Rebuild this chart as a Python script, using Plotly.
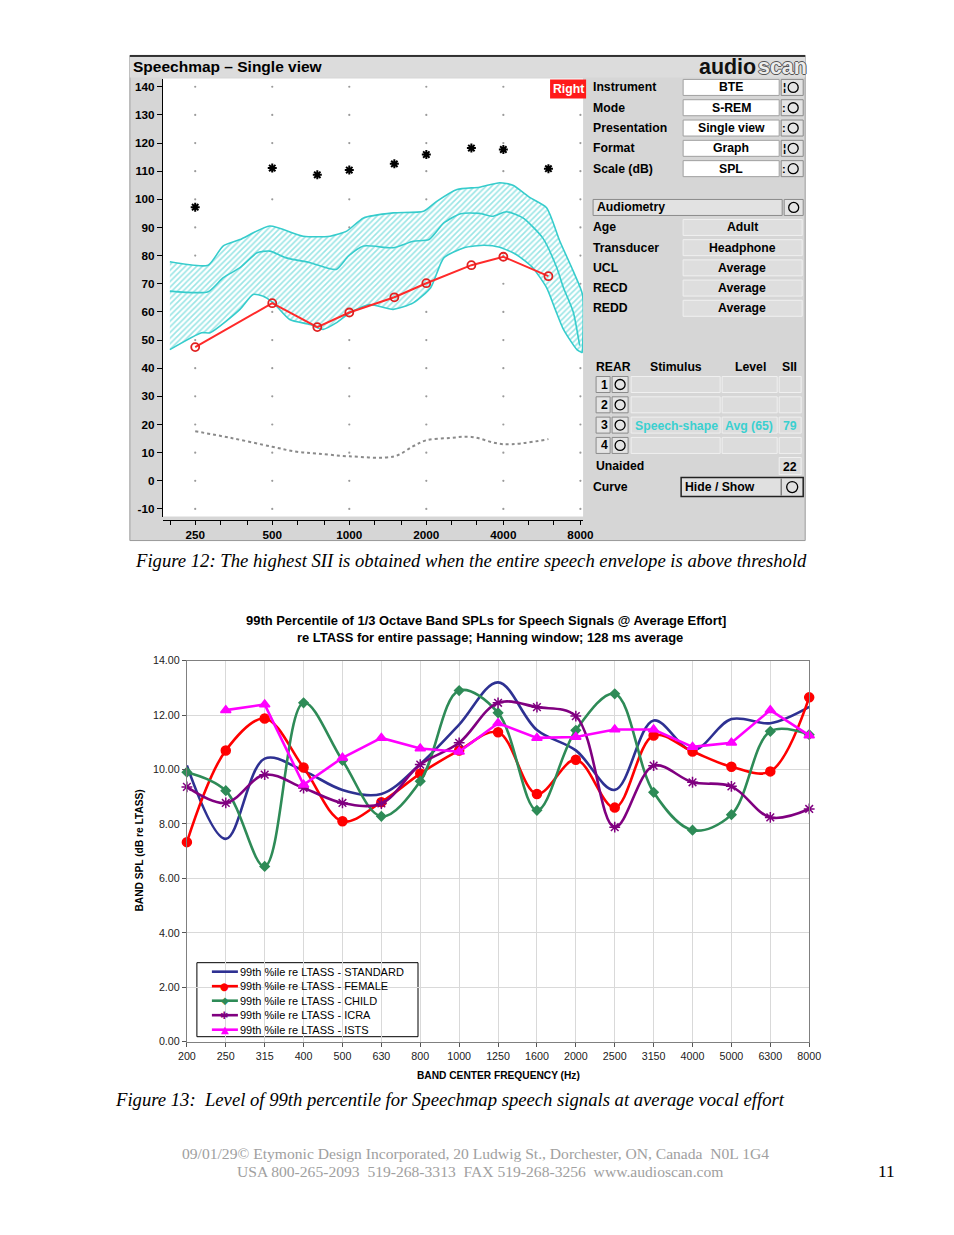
import math
import plotly.graph_objects as go

# ---------------- Figure 12 : Speechmap screen data ----------------
sm_freq = [250, 500, 750, 1000, 1500, 2000, 3000, 4000, 6000]
ucl_db = [97.2, 111.1, 108.7, 110.4, 112.6, 115.9, 118.2, 117.7, 110.9]
threshold_db = [47.5, 63.1, 54.6, 59.8, 65.2, 70.2, 76.6, 79.6, 72.7]

unaided_freq = [250, 342, 500, 624, 750, 1000, 1500, 1778, 2000, 2460, 3000, 4000, 6000]
unaided_db = [17.6, 15.3, 12.1, 10.3, 9.7, 8.7, 8.7, 12.3, 14.4, 15.2, 15.6, 13.0, 14.8]

band_upper_freq = [199, 281, 321, 374, 489, 661, 841, 977, 1137, 1484, 1952, 2196, 2637,
                   3226, 3873, 4360, 5085, 5900, 6650, 7500, 8150, 8150]
band_upper_db = [77.8, 76.6, 83.4, 85.7, 90.5, 86.9, 86.9, 88.7, 93.4, 95.2, 95.8, 99.3, 103.5,
                 104.3, 105.9, 105.0, 100.6, 97.0, 85.1, 74.5, 66.2, 45.5]
band_lower_freq = [199, 265, 286, 374, 421, 461, 505, 585, 703, 790, 889, 1006, 1203, 1484,
                   1778, 2080, 2341, 2810, 3367, 3873, 4490, 5210, 5900, 6380, 6870, 7770, 8150]
band_lower_db = [46.6, 52.6, 52.6, 60.9, 66.2, 65.6, 63.2, 57.3, 55.5, 53.8, 56.1, 59.7, 62.6, 60.9,
                 63.2, 68.6, 79.2, 82.8, 83.7, 83.0, 80.4, 75.7, 68.6, 60.9, 53.8, 46.5, 45.5]
band_mid_freq = [199, 281, 321, 374, 436, 489, 568, 703, 889, 991, 1137, 1484, 1778, 2050,
                 2341, 2724, 3226, 3650, 4110, 4770, 5700, 6470, 6870, 7500, 7950]
band_mid_db = [67.4, 67.2, 72.1, 75.7, 81.0, 81.6, 79.2, 77.5, 75.1, 79.8, 83.4, 82.8, 85.1, 85.7,
               91.6, 94.9, 95.0, 94.0, 95.6, 93.4, 86.3, 75.7, 68.6, 60.0, 48.0]

sm_xtick_vals = [250, 500, 1000, 2000, 4000, 8000]
sm_xtick_text = ["250", "500", "1000", "2000", "4000", "8000"]
sm_xminor_vals = [200, 315, 400, 630, 800, 1250, 1600, 2500, 3150, 5000, 6300]
sm_ytick_vals = list(range(-10, 141, 10))
sm_ytick_text = ["-10" if v < 0 else str(v) for v in sm_ytick_vals]

# ---------------- Figure 13 : 99th percentile data ----------------
bands = ["200", "250", "315", "400", "500", "630", "800", "1000", "1250", "1600",
         "2000", "2500", "3150", "4000", "5000", "6300", "8000"]
standard = [10.15, 7.45, 10.4, 9.95, 9.25, 9.1, 10.2, 11.65, 13.2, 11.45, 10.7, 9.25, 11.8, 10.7, 11.85, 11.7, 12.3]
female = [7.33, 10.7, 11.87, 10.07, 8.1, 8.8, 9.85, 10.7, 11.37, 9.1, 10.36, 8.6, 11.25, 10.66, 10.1, 9.93, 12.65]
child = [9.9, 9.22, 6.44, 12.45, 10.33, 8.28, 9.57, 12.9, 12.08, 8.5, 11.44, 12.78, 9.16, 7.77, 8.34, 11.4, 11.28]
icra = [9.36, 8.77, 9.81, 9.32, 8.77, 8.75, 10.18, 10.98, 12.45, 12.29, 11.96, 7.88, 10.14, 9.53, 9.38, 8.24, 8.55]
ists = [None, 12.18, 12.39, 9.44, 10.43, 11.16, 10.77, 10.65, 11.7, 11.16, 11.19, 11.47, 11.47, 10.83, 10.98, 12.18, 11.25]
series_names = ["99th %ile re LTASS - STANDARD", "99th %ile re LTASS - FEMALE",
                "99th %ile re LTASS - CHILD", "99th %ile re LTASS - ICRA",
                "99th %ile re LTASS - ISTS"]

# ---------------- page geometry helpers ----------------
FW, FH = 954, 1235
AX, BX = 0.9775, 9.2     # observed page -> picture mapping
AY, BY = 0.990, 6.6
FS = 1.02                # font compensation


def X(p):
    return ((p - BX) / AX) / FW


def Y(p):
    return 1 - ((p - BY) / AY) / FH


shapes = []
annotations = []


def rect(x0, y0, x1, y1, fill, line="rgba(0,0,0,0)", lw=0):
    shapes.append(dict(type="rect", xref="paper", yref="paper", x0=X(x0), x1=X(x1),
                       y0=Y(y1), y1=Y(y0), fillcolor=fill, line=dict(color=line, width=lw),
                       layer="below"))


def circ(cx, cy, r=5, color="black", lw=1.3):
    shapes.append(dict(type="circle", xref="paper", yref="paper", x0=X(cx - r), x1=X(cx + r),
                       y0=Y(cy + r), y1=Y(cy - r), line=dict(color=color, width=lw), layer="above"))


def hline(x0, x1, y, color="black", lw=1):
    shapes.append(dict(type="line", xref="paper", yref="paper", x0=X(x0), x1=X(x1),
                       y0=Y(y), y1=Y(y), line=dict(color=color, width=lw), layer="above"))


def txt(x, y, s, size=12, color="black", bold=True, anchor="left",
        family="Liberation Sans", italic=False, angle=0, shadow=None):
    font = dict(family=family, size=size * FS, color=color,
                weight="bold" if bold else "normal",
                style="italic" if italic else "normal")
    if shadow:
        font["shadow"] = shadow
    annotations.append(dict(xref="paper", yref="paper", x=X(x), y=Y(y), text=s, showarrow=False,
                            xanchor=anchor, yanchor="middle", textangle=angle, font=font))


fig = go.Figure()

# ================= Figure 12 (Speechmap screenshot) =================
PANEL = "#d6d6d6"
rect(130, 56, 805, 541, PANEL, "#9a9a9a", 1)
rect(130, 56, 805, 78, "#dcdcdc")
hline(130, 805, 56.5, "black", 1.5)
rect(163, 79, 583, 517, "white")
txt(131, 67, "Speechmap \u2013 Single view", size=15.2)

# logo
txt(697, 68, "audio", size=21, color="#111111")
txt(756, 68, "scan", size=21, color="#ececec",
    shadow="-1px 0 #555, 1px 0 #555, 0 -1px #555, 0 1px #555")

# "Right" tag
rect(550, 80, 586, 99, "#ff1a1a")
txt(568, 90, "Right", size=12, color="white", anchor="center")

# settings rows
top_labels = ["Instrument", "Mode", "Presentation", "Format", "Scale (dB)"]
top_values = ["BTE", "S-REM", "Single view", "Graph", "SPL"]
top_marks = ["\u00a6", ":", ":", "\u00a6", ":"]
for i, (lab, val, mk) in enumerate(zip(top_labels, top_values, top_marks)):
    cy = 88 + i * 20.3
    txt(591, cy, lab, size=12)
    rect(683, cy - 8, 779, cy + 8, "white", "#a0a0a0", 1)
    txt(731, cy, val, size=12, anchor="center")
    rect(781, cy - 8, 803, cy + 8, "#e4e4e4", "#8a8a8a", 1)
    txt(784, cy, mk, size=11, anchor="center")
    circ(793, cy, 5)

rect(593, 200, 782, 216, "#e2e2e2", "#8a8a8a", 1)
txt(595, 208, "Audiometry", size=12)
rect(784, 200, 803, 216, "#e4e4e4", "#8a8a8a", 1)
circ(793.5, 208, 5)

aud_labels = ["Age", "Transducer", "UCL", "RECD", "REDD"]
aud_values = ["Adult", "Headphone", "Average", "Average", "Average"]
for i, (lab, val) in enumerate(zip(aud_labels, aud_values)):
    cy = 228 + i * 20.2
    txt(591, cy, lab, size=12)
    rect(683, cy - 8, 802, cy + 8, "#dedede", "#f0f0f0", 1)
    txt(742, cy, val, size=12, anchor="center")

txt(594, 367, "REAR", size=12)
txt(676, 367, "Stimulus", size=12, anchor="center")
txt(750, 367, "Level", size=12, anchor="center")
txt(789, 367, "SII", size=12, anchor="center")
CYAN_T = "#3ad0d0"
for i in range(4):
    cy = 385 + i * 20.3
    rect(596, cy - 8, 610, cy + 8, "#e4e4e4", "#8a8a8a", 1)
    txt(604, cy, str(i + 1), size=12, anchor="center")
    rect(612, cy - 8, 628, cy + 8, "#e4e4e4", "#8a8a8a", 1)
    circ(620, cy, 5)
    rect(631, cy - 8, 720, cy + 8, "#dcdcdc", "#f0f0f0", 1)
    rect(722, cy - 8, 777, cy + 8, "#dcdcdc", "#f0f0f0", 1)
    rect(779, cy - 8, 801, cy + 8, "#dcdcdc", "#f0f0f0", 1)
txt(676, 426, "Speech-shape", size=12, color=CYAN_T, anchor="center")
txt(749, 426, "Avg (65)", size=12, color=CYAN_T, anchor="center")
txt(790, 426, "79", size=12, color=CYAN_T, anchor="center")

txt(594, 466, "Unaided", size=12)
rect(779, 458, 801, 475, "#dcdcdc", "#f0f0f0", 1)
txt(790, 467, "22", size=12, anchor="center")
txt(591, 487, "Curve", size=12)
rect(681, 478, 803, 497, "#e0e0e0", "#222222", 1.5)
shapes.append(dict(type="line", xref="paper", yref="paper", x0=X(781), x1=X(781), y0=Y(479), y1=Y(496),
                   line=dict(color="#555", width=1), layer="above"))
txt(683, 487.5, "Hide / Show", size=12)
circ(792, 487.5, 5.5)

# grid dots of the speechmap
grid_x = [f for f in sm_xtick_vals for _ in sm_ytick_vals]
grid_y = [v for _ in sm_xtick_vals for v in sm_ytick_vals]
fig.add_trace(go.Scatter(x=grid_x, y=grid_y, mode="markers", xaxis="x", yaxis="y",
                         marker=dict(size=2.2, color="#9a9a9a"), hoverinfo="skip", showlegend=False))

CY = "#36cccc"
band_x = band_upper_freq + band_lower_freq[::-1]
band_y = band_upper_db + band_lower_db[::-1]
fig.add_trace(go.Scatter(x=band_x, y=band_y, mode="lines", fill="toself", xaxis="x", yaxis="y",
                         line=dict(width=0, color=CY, shape="spline", smoothing=0.6),
                         fillcolor="rgba(255,255,255,0)",
                         fillpattern=dict(shape="/", fgcolor=CY, bgcolor="white", size=4, solidity=0.4),
                         name="Speech region", showlegend=False))
for fx, fy in [(band_upper_freq, band_upper_db), (band_lower_freq, band_lower_db),
               (band_mid_freq, band_mid_db)]:
    fig.add_trace(go.Scatter(x=fx, y=fy, mode="lines", xaxis="x", yaxis="y",
                             line=dict(width=1.6, color=CY, shape="spline", smoothing=0.6),
                             showlegend=False))

fig.add_trace(go.Scatter(x=unaided_freq, y=unaided_db, mode="lines", xaxis="x", yaxis="y",
                         line=dict(color="#8a8a8a", width=2, dash="dot", shape="spline"),
                         name="Unaided", showlegend=False))
fig.add_trace(go.Scatter(x=sm_freq, y=threshold_db, mode="lines+markers", xaxis="x", yaxis="y",
                         line=dict(color="#ff2a2a", width=2),
                         marker=dict(symbol="circle-open", size=8, color="#e02020", line=dict(width=1.8)),
                         name="Threshold", showlegend=False))
fig.add_trace(go.Scatter(x=sm_freq, y=ucl_db, mode="markers", xaxis="x", yaxis="y",
                         marker=dict(symbol="asterisk-open", size=7.5, color="black", line=dict(width=2, color="black")),
                         name="UCL", showlegend=False))

# ================= Figure 13 (Excel chart) =================
styles = [
    dict(color="#2e3192", symbol=None, shape="spline"),
    dict(color="#ff0000", symbol="circle", shape="spline"),
    dict(color="#2e8b57", symbol="diamond", shape="spline"),
    dict(color="#800080", symbol="asterisk-open", shape="spline"),
    dict(color="#ff00ff", symbol="triangle-up", shape="linear"),
]
marker_sizes = [0, 9, 7, 9, 9]
for vals, name, st, ms in zip([standard, female, child, icra, ists], series_names, styles, marker_sizes):
    if st["symbol"] is None:
        mode = "lines"
        mk = None
    else:
        mode = "lines+markers"
        mk = dict(symbol=st["symbol"], size=ms, color=st["color"],
                  line=dict(width=1.5, color=st["color"]))
    fig.add_trace(go.Scatter(x=bands, y=vals, mode=mode, name=name, xaxis="x2", yaxis="y2",
                             line=dict(color=st["color"], width=2.6, shape=st["shape"], smoothing=1.0),
                             marker=mk, cliponaxis=False, connectgaps=False, showlegend=False))

# titles / axis titles
txt(486, 621, "99th Percentile of 1/3 Octave Band SPLs for Speech Signals @ Average Effort]", size=12.7, anchor="center")
txt(490, 638, "re LTASS for entire passage; Hanning window; 128 ms average", size=12.7, anchor="center")
txt(140, 851, "BAND SPL (dB re LTASS)", size=10, anchor="center", angle=-90)
txt(498, 1076, "BAND CENTER FREQUENCY (Hz)", size=10, anchor="center")

# manual legend box
rect(197, 963, 418, 1037, "white", "black", 1)
leg_glyph = [None, "\u25cf", "\u25c6", "\u2731", "\u25b2"]
for i, (name, st, g) in enumerate(zip(series_names, styles, leg_glyph)):
    cy = 972 + i * 14.5
    hline(212, 238, cy, st["color"], 2.6)
    if g:
        txt(225, cy, g, size=10, color=st["color"], bold=False, anchor="center", family="DejaVu Sans")
    txt(238, cy, name, size=10.8, bold=False)

# captions & footer
txt(133, 561, "Figure 12: The highest SII is obtained when the entire speech envelope is above threshold",
    size=18.3, bold=False, family="Liberation Serif", italic=True)
txt(113, 1100, "Figure 13:  Level of 99th percentile for Speechmap speech signals at average vocal effort",
    size=18.3, bold=False, family="Liberation Serif", italic=True)
txt(475, 1154, "09/01/29\u00a9 Etymonic Design Incorporated, 20 Ludwig St., Dorchester, ON, Canada  N0L 1G4",
    size=15.3, bold=False, family="Liberation Serif", color="#a0a0a0", anchor="center")
txt(480, 1172, "USA 800-265-2093  519-268-3313  FAX 519-268-3256  www.audioscan.com",
    size=15.3, bold=False, family="Liberation Serif", color="#a0a0a0", anchor="center")
txt(886, 1172, "11", size=17, bold=False, family="Liberation Serif", anchor="center")

sm_font = dict(family="Liberation Sans", size=11.5 * FS, color="black", weight="bold")
ex_font = dict(family="Liberation Sans", size=10.5 * FS, color="#222")
fig.update_layout(
    width=FW, height=FH, margin=dict(l=0, r=0, t=0, b=0),
    paper_bgcolor="white", plot_bgcolor="rgba(0,0,0,0)",
    showlegend=False,
    xaxis=dict(type="log", domain=[X(163), X(583)],
               range=[math.log10(186.9), math.log10(8196)],
               anchor="free", position=Y(520),
               tickmode="array", tickvals=sm_xtick_vals, ticktext=sm_xtick_text,
               ticks="outside", ticklen=4, tickcolor="black", tickfont=sm_font,
               minor=dict(tickmode="array", tickvals=sm_xminor_vals, ticks="outside", ticklen=4,
                          tickcolor="black", showgrid=False),
               showline=True, linecolor="black", linewidth=1, showgrid=False, zeroline=False),
    yaxis=dict(domain=[Y(517), Y(80)], range=[-12.7, 142.6], anchor="x",
               tickmode="array", tickvals=sm_ytick_vals, ticktext=sm_ytick_text,
               ticks="outside", ticklen=5, tickcolor="black", tickfont=sm_font,
               showline=True, linecolor="black", linewidth=1, showgrid=False, zeroline=False),
    xaxis2=dict(type="category", domain=[X(187), X(809)], range=[0, 16], anchor="y2",
                categoryorder="array", categoryarray=bands,
                showgrid=True, gridcolor="#d9d9d9", gridwidth=1,
                ticks="outside", ticklen=4, tickcolor="#555", tickfont=ex_font,
                showline=True, linecolor="#808080", linewidth=1, mirror=True, zeroline=False),
    yaxis2=dict(domain=[Y(1042), Y(661)], range=[0, 14], anchor="x2", dtick=2, tickformat=".2f",
                showgrid=True, gridcolor="#d9d9d9", gridwidth=1,
                ticks="outside", ticklen=4, tickcolor="#555", tickfont=ex_font,
                showline=True, linecolor="#808080", linewidth=1, mirror=True, zeroline=False),
    shapes=shapes, annotations=annotations,
)

fig.write_html("out.html", config={"displayModeBar": False},
               post_script="document.body.style.margin='0';document.body.style.overflow='hidden';")
